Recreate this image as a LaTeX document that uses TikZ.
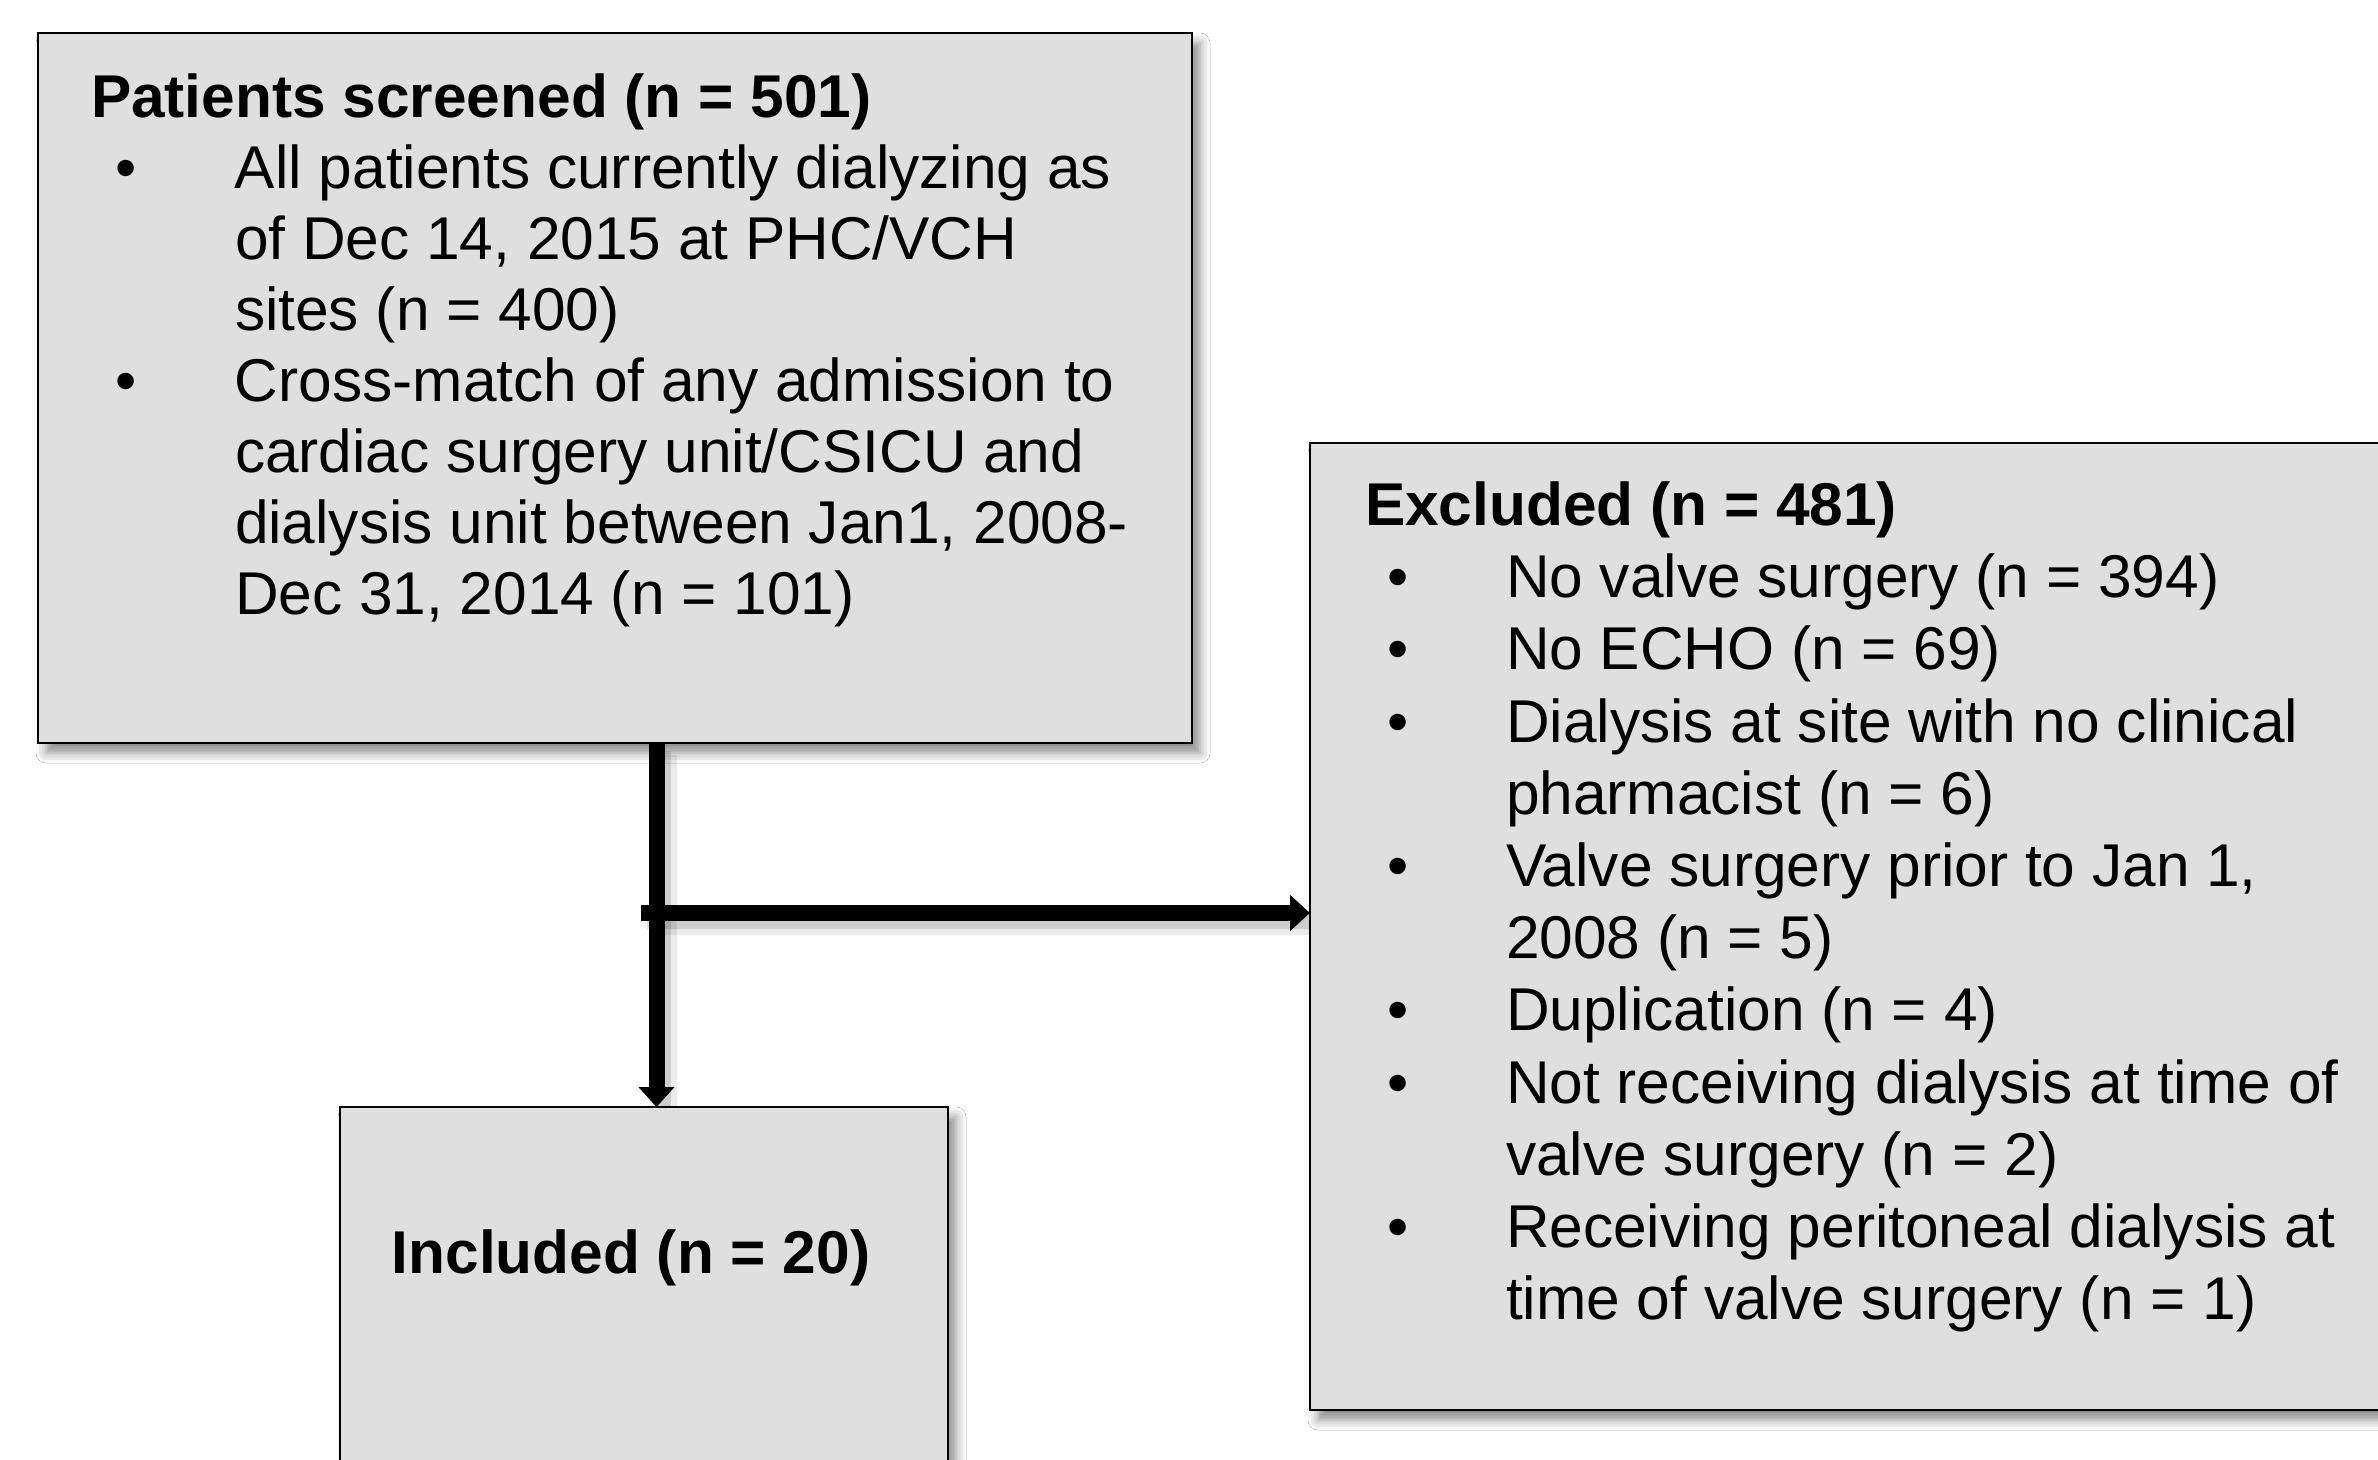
\documentclass[tikz,border=0pt]{standalone}
\usepackage{fontspec}
\setmainfont{Liberation Sans}
\usetikzlibrary{arrows.meta,shadows.blur,calc}
\definecolor{boxgray}{RGB}{223,223,223}
\newcommand{\bulA}{\hangindent=72pt\hangafter=1\noindent\makebox[72pt][l]{\hspace{12pt}\textbullet}}
\newcommand{\bulB}{\hangindent=70.5pt\hangafter=1\noindent\makebox[70.5pt][l]{\hspace{11pt}\textbullet}}
\begin{document}
\begin{tikzpicture}[x=0.5pt,y=-0.5pt,
  box/.style={draw=black, line width=1.1pt, fill=boxgray, rectangle, inner sep=0pt, outer sep=0pt, anchor=north west,
    blur shadow={shadow xshift=4pt, shadow yshift=-5pt, shadow blur radius=5pt, shadow opacity=45}},
  conn/.style={line width=8pt, draw=black, -{Triangle[width=17.5pt,length=10pt]}},
  connshadowA/.style={line width=12pt, draw=black, opacity=0.08},
  connshadowB/.style={line width=8pt, draw=black, opacity=0.12},
  txt/.style={inner sep=0pt, outer sep=0pt, anchor=base west}
]
\useasboundingbox (0,0) rectangle (2378,1460);
\clip (0,0) rectangle (2378,1460);
\fill[white] (0,0) rectangle (2378,1460);

% boxes
\node[box, minimum width=577pt, minimum height=355pt] (screened) at (38,33) {};
\node[box, minimum width=545pt, minimum height=483.5pt] (excluded) at (1310,443) {};
\node[box, minimum width=304pt, minimum height=190pt] (included) at (340,1107) {};

% connector helpers
\coordinate (vx) at (656.5,0);
\coordinate (hstart) at (641,913);

% connector shadows
\draw[connshadowA] ($(vx |- screened.south)+(8,12)$) -- ($(vx |- included.north)+(8,0)$);
\draw[connshadowB] ($(vx |- screened.south)+(6,8)$) -- ($(vx |- included.north)+(6,0)$);
\draw[connshadowA] ($(hstart)+(8,10)$) -- ($(hstart -| excluded.west)+(0,10)$);
\draw[connshadowB] ($(hstart)+(6,8)$) -- ($(hstart -| excluded.west)+(0,8)$);

% connectors
\draw[conn] (vx |- screened.south) -- (vx |- included.north);
\draw[conn] (hstart) -- (hstart -| excluded.west);

% texts
\node[txt] (screenedtxt) at (91,117.5) {\begin{minipage}[t]{560pt}\fontsize{30.2pt}{35.5pt}\selectfont
\textbf{Patients screened (n = 501)}\par
\bulA All patients currently dialyzing as\\of Dec 14, 2015 at PHC/VCH\\sites (n = 400)\par
\bulA Cross-match of any admission to\\cardiac surgery unit/CSICU and\\dialysis unit between Jan1, 2008-\\Dec 31, 2014 (n = 101)\par
\end{minipage}};

\node[txt] (excludedtxt) at (1365,525.5) {\begin{minipage}[t]{500pt}\fontsize{30.2pt}{36.1pt}\selectfont
\textbf{Excluded (n = 481)}\par
\bulB No valve surgery (n = 394)\par
\bulB No ECHO (n = 69)\par
\bulB Dialysis at site with no clinical\\pharmacist (n = 6)\par
\bulB Valve surgery prior to Jan 1,\\2008 (n = 5)\par
\bulB Duplication (n = 4)\par
\bulB Not receiving dialysis at time of\\valve surgery (n = 2)\par
\bulB Receiving peritoneal dialysis at\\time of valve surgery (n = 1)\par
\end{minipage}};

\node[inner sep=0pt, outer sep=0pt, anchor=base] (includedtxt) at (631,1273) {\fontsize{30.2pt}{36pt}\selectfont\bfseries Included (n = 20)};
\end{tikzpicture}
\end{document}
